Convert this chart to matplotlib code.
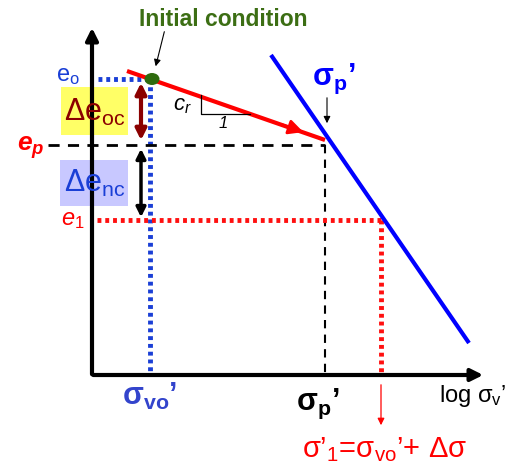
import matplotlib
matplotlib.use("Agg")
import matplotlib.pyplot as plt
from matplotlib.patches import Rectangle, Ellipse

plt.rcParams["font.family"] = ["Liberation Sans", "DejaVu Sans"]
plt.rcParams["mathtext.fontset"] = "custom"
plt.rcParams["mathtext.rm"] = "Liberation Sans"
plt.rcParams["mathtext.it"] = "Liberation Sans:italic"
plt.rcParams["mathtext.bf"] = "Liberation Sans:bold"
plt.rcParams["mathtext.bfit"] = "Liberation Sans:bold:italic"

# schematic positions (pixel-like units, y grows downward)
x_axis = [92, 486]            # x-axis extent
y_axis = [375, 25]            # y-axis extent
e_levels = [79, 145, 220]      # e0, ep, e1
sig_x = [150, 325, 381]        # sigma_vo', sigma_p', sigma'_1
recomp_x = [127, 325]          # red recompression line
recomp_y = [71, 140]
ncl_x = [271, 469]             # blue virgin compression line
ncl_y = [55, 343]

fig = plt.figure(figsize=(5.16, 4.63), dpi=100)
ax = fig.add_axes([0, 0, 1, 1])
ax.set_xlim(0, 516); ax.set_ylim(463, 0); ax.axis("off")

# axes
ax.annotate("", (x_axis[0], y_axis[1]), (x_axis[0], y_axis[0] + 2),
            arrowprops=dict(arrowstyle="-|>", color="k", lw=3, mutation_scale=18))
ax.annotate("", (x_axis[1], y_axis[0]), (x_axis[0] - 1.5, y_axis[0]),
            arrowprops=dict(arrowstyle="-|>", color="k", lw=3, mutation_scale=18))

# guide lines
ax.plot([98, sig_x[0]], [e_levels[0]] * 2, color="#1a3fd6", lw=3.5, ls=(0, (0.8, 0.8)))
ax.plot([sig_x[0]] * 2, [e_levels[0], y_axis[0]], color="#1a3fd6", lw=3.5, ls=(0, (0.8, 0.8)))
ax.plot([48, sig_x[1]], [e_levels[1]] * 2, color="k", lw=2, ls=(0, (4, 3)))
ax.plot([sig_x[1]] * 2, [e_levels[1], y_axis[0]], color="k", lw=1.5, ls=(0, (4, 3)))
ax.plot([97, sig_x[2]], [e_levels[2]] * 2, color="#ff1010", lw=3.5, ls=(0, (0.8, 0.8)))
ax.plot([sig_x[2]] * 2, [e_levels[2], y_axis[0]], color="#ff1010", lw=3.5, ls=(0, (0.8, 0.8)))

# compression lines
ax.plot(ncl_x, ncl_y, color="#0000ff", lw=3, solid_capstyle="butt")
ax.plot(recomp_x, recomp_y, color="#ff0000", lw=3, solid_capstyle="butt")
ax.annotate("", (306, 133), (280, 124),
            arrowprops=dict(arrowstyle="-|>", color="#ff0000", lw=2, mutation_scale=22))
ax.add_patch(Ellipse((152, 79), 15, 12, fc="#2e6b0e", ec="none", zorder=5))

# slope triangle
ax.plot([201, 201, 250], [95, 114, 114], color="k", lw=0.9)
ax.text(182, 106, "$c_r$", fontsize=16, ha="center", va="center")
ax.text(223, 124, "1", fontsize=12, style="italic", ha="center", va="center")

# delta e boxes and arrows
ax.add_patch(Rectangle((61, 87), 67, 48, fc="#ffff66", ec="none", zorder=1))
ax.add_patch(Rectangle((60, 160), 68, 46, fc="#c8c8ff", ec="none", zorder=1))
ax.text(95, 112, r"Δe$_{\rm oc}$", fontsize=22, color="#8b0000", ha="center", va="center")
ax.text(95, 183, r"Δe$_{\rm nc}$", fontsize=22, color="#1a3fd6", ha="center", va="center")
ax.annotate("", (141, 143), (141, 80),
            arrowprops=dict(arrowstyle="<|-|>", color="#8b0000", lw=3, mutation_scale=16))
ax.annotate("", (141, 220), (141, 146),
            arrowprops=dict(arrowstyle="<|-|>", color="k", lw=2.5, mutation_scale=14))

# e labels
ax.text(68, 76, r"e$_{\rm o}$", fontsize=17, color="#1a3fd6", ha="center", va="center")
ax.text(31, 148, r"$\mathbfit{e_p}$", fontsize=19, color="#ff0000", ha="center", va="center")
ax.text(73, 220, r"$e_1$", fontsize=17, color="#ff0000", ha="center", va="center")

# annotations
ax.text(223, 19, "Initial condition", fontsize=16.5, fontweight="bold", color="#3c6e14",
        ha="center", va="center")
ax.annotate("", (155, 69), (165, 29), arrowprops=dict(arrowstyle="-|>", color="k", lw=0.8))
ax.text(334, 79, r"σ$_{\mathbf{p}}$’", fontsize=22, fontweight="bold", color="#0000ff",
        ha="center", va="center")
ax.annotate("", (327, 126), (327, 95), arrowprops=dict(arrowstyle="-|>", color="k", lw=0.8))

# x labels
ax.text(150, 396, r"σ$_{\mathbf{vo}}$’", fontsize=22, fontweight="bold", color="#3344cc",
        ha="center", va="center")
ax.text(318, 404, r"σ$_{\mathbf{p}}$’", fontsize=22, fontweight="bold", color="k",
        ha="center", va="center")
ax.text(473, 396, r"log σ$_{\rm v}$’", fontsize=17, color="k", ha="center", va="center")
ax.annotate("", (sig_x[2], 428), (sig_x[2], 382),
            arrowprops=dict(arrowstyle="-|>", color="#ff0000", lw=0.9))
ax.text(385, 450, r"σ’$_1$=σ$_{\rm vo}$’+ Δσ", fontsize=21,
        color="#ff0000", ha="center", va="center")

fig.savefig("out.png", dpi=100)
